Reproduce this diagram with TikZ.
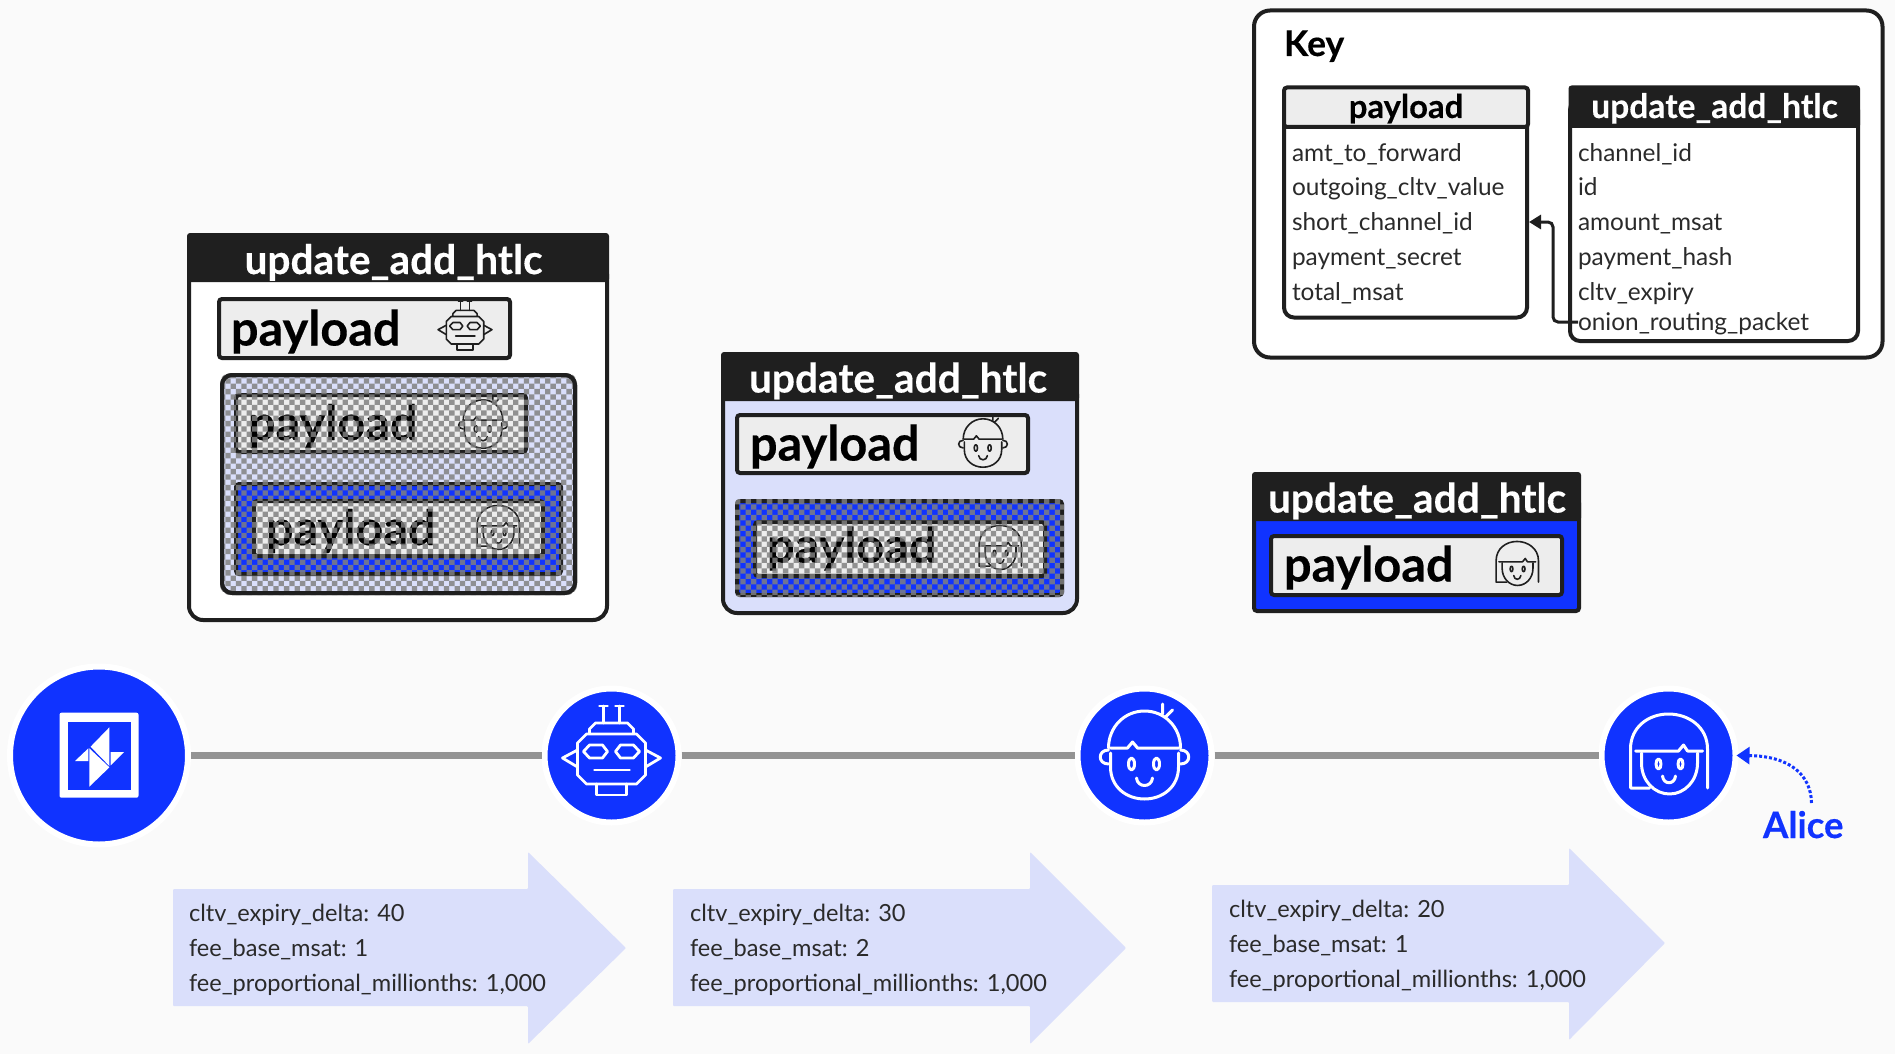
\documentclass[tikz,border=0pt]{standalone}
\usepackage{fontspec}
\setmainfont{Lato}[BoldFeatures={FakeBold=0.35}]
\usetikzlibrary{arrows.meta}
\definecolor{bg}{HTML}{FAFAFA}
\definecolor{ink}{HTML}{1F1F1F}
\definecolor{lnblue}{HTML}{1033FF}
\definecolor{pale}{HTML}{DADFFB}
\definecolor{paygray}{HTML}{EDEDED}
\definecolor{hop}{HTML}{939393}
\definecolor{textdark}{HTML}{2A2A2A}
\newcommand{\fsz}[1]{\fontsize{#1}{#1}\selectfont}
\tikzset{
  lab/.style={inner sep=0pt,outer sep=0pt,anchor=base west},
  hdr/.style={inner sep=0pt,outer sep=0pt,anchor=base,text=white,font=\fsz{40.6}\bfseries},
  paylab/.style={lab,text=black,font=\fsz{48.6}\bfseries},
  row/.style={lab,text=textdark,font=\fsz{24.4}},
  feelab/.style={lab,text=textdark,font=\fsz{23.6}},
  outerbox/.style={draw=ink,line width=4pt,rounded corners=14pt},
  headbar/.style={fill=ink,rounded corners=3pt},
  paybox/.style={draw=ink,line width=4pt,fill=paygray,rounded corners=3pt},
  hopnode/.style={circle,draw=white,fill=lnblue,line width=6pt,inner sep=0pt,minimum size=134pt},
  hopline/.style={draw=hop,line width=7pt},
  feearrow/.style={fill=pale,draw=none,rounded corners=1pt},
}
% icons: x, y, scale, colour, line width
\newcommand{\iconrobot}[5]{\begin{scope}[shift={(#1,#2)},scale=#3,draw=#4,line width=#5,line join=round,line cap=round]
  \draw (-25,-21)--(25,-21)--(34,-12)--(34,20)--(25,29)--(-25,29)--(-34,20)--(-34,-12)--cycle;
  \draw (-22,-22)--(-22,-26)--(-16,-32)--(16,-32)--(22,-26)--(22,-22);
  \draw (-8,-32)--(-8,-49) (-12,-49)--(-4,-49) (8,-32)--(8,-49) (4,-49)--(12,-49);
  \draw (-28,-3.5)--(-22,-10)--(-9,-10)--(-4,-3.5)--(-9,3)--(-22,3)--cycle;
  \draw (28,-3.5)--(22,-10)--(9,-10)--(4,-3.5)--(9,3)--(22,3)--cycle;
  \draw (-17,15)--(18,15);
  \draw (-34,-5)--(-49,3)--(-34,12) (34,-5)--(49,3)--(34,12);
  \draw (-15,29)--(-15,40)--(15,40)--(15,29);
\end{scope}}
\newcommand{\iconboy}[5]{\begin{scope}[shift={(#1,#2)},scale=#3,draw=#4,line width=#5,line join=round,line cap=round]
  \draw (-34,-2) -- (-34,12) .. controls (-34,32) and (-18,44) .. (0,44) .. controls (18,44) and (34,32) .. (34,12) -- (34,-2);
  \draw (-36,-7) .. controls (-36,-28) and (-20,-44) .. (0,-44) .. controls (20,-44) and (36,-28) .. (36,-7);
  \draw (-34,-7) -- (-17,-7) -- (-12,-13) -- (-7,-7) -- (34,-7);
  \draw (18,-51) -- (18,-41) (28,-45) -- (21,-38);
  \draw (-13,9) ellipse [x radius=3,y radius=6];
  \draw (12,9) ellipse [x radius=3,y radius=6];
  \draw (-8,23) .. controls (-7,33) and (7,33) .. (8,23);
  \draw (-36,-5) .. controls (-47,-5) and (-47,9) .. (-36,9);
  \draw (36,-5) .. controls (47,-5) and (47,9) .. (36,9);
\end{scope}}
\newcommand{\icongirl}[5]{\begin{scope}[shift={(#1,#2)},scale=#3,draw=#4,line width=#5,line join=round,line cap=round]
  \draw (-19,33) -- (-38,33) -- (-38,-6) .. controls (-38,-28) and (-20,-41) .. (0,-41) .. controls (20,-41) and (39,-28) .. (39,-6) -- (39,33);
  \draw (-33,-4) -- (10,-4) -- (15,-10) -- (19,-4) -- (34,-4);
  \draw (-27,-2) -- (-27,8) .. controls (-27,26) and (-14,39) .. (1,39) .. controls (16,39) and (29,26) .. (29,8) -- (29,-2);
  \draw (-10,9) ellipse [x radius=2.5,y radius=5];
  \draw (12,9) ellipse [x radius=2.5,y radius=5];
  \draw (-6,21) .. controls (-5,30) and (6,30) .. (7,21);
\end{scope}}
% checker overlay: x1,y1,x2,y2,radius,nx,ny
\newcommand{\checker}[7]{\begin{scope}
  \clip[rounded corners=#5] (#1,#2) rectangle (#3,#4);
  \fill[black!50,opacity=.84] \foreach \i in {0,2,...,#6}{\foreach \j in {0,2,...,#7}{(#1+\i*5.33,#2+\j*5.33) rectangle ++(5.33,5.33)}};
  \fill[black!50,opacity=.84] \foreach \i in {1,3,...,#6}{\foreach \j in {1,3,...,#7}{(#1+\i*5.33,#2+\j*5.33) rectangle ++(5.33,5.33)}};
\end{scope}}
\begin{document}
\begin{tikzpicture}[x=1pt,y=-1pt]
\useasboundingbox (0,0) rectangle (1895,1054);
\fill[bg] (0,0) rectangle (1895,1054);

% ---------- fee arrows
\fill[feearrow] (173,889)--(528,889)--(528,852)--(626,948)--(528,1044)--(528,1006)--(173,1006)--cycle;
\fill[feearrow] (673,889)--(1030,889)--(1030,852)--(1126,948)--(1030,1044)--(1030,1006)--(673,1006)--cycle;
\fill[feearrow] (1212,885)--(1569,885)--(1569,848)--(1665,943)--(1569,1040)--(1569,1002)--(1212,1002)--cycle;
\node[feelab] (f1a) at (189,921) {cltv\_expiry\_delta: 40};
\node[feelab] (f1b) at (189,956) {fee\_base\_msat: 1};
\node[feelab] (f1c) at (189,991) {fee\_proportional\_millionths: 1,000};
\node[feelab] (f2a) at (690,921) {cltv\_expiry\_delta: 30};
\node[feelab] (f2b) at (690,956) {fee\_base\_msat: 2};
\node[feelab] (f2c) at (690,991) {fee\_proportional\_millionths: 1,000};
\node[feelab] (f3a) at (1229,917) {cltv\_expiry\_delta: 20};
\node[feelab] (f3b) at (1229,952) {fee\_base\_msat: 1};
\node[feelab] (f3c) at (1229,987) {fee\_proportional\_millionths: 1,000};

% ---------- route
\node[hopnode,minimum size=178pt] (gate) at (99,755.5) {};
\node[hopnode] (robot) at (611.5,755.5) {};
\node[hopnode] (boy) at (1144.5,755.5) {};
\node[hopnode] (girl) at (1668.5,755.5) {};
\draw[hopline] (gate) -- (robot);
\draw[hopline] (robot) -- (boy);
\draw[hopline] (boy) -- (girl);
% lightning icon
\fill[white,rounded corners=2pt] (59.5,712.7) rectangle (138.5,797.7);
\fill[lnblue] (68,721.7) rectangle (131,790);
\fill[white] (109.4,727.3)--(90.6,746.7)--(109.4,766)--cycle;
\fill[white] (89.3,748.3)--(89.3,786.7)--(109.4,767.3)--cycle;
\fill[white] (75,761)--(88.4,748.3)--(88.4,761)--cycle;
\fill[white] (110.7,752)--(124.1,752)--(110.7,765.3)--cycle;
\iconrobot{611.5}{755}{1}{white}{2.8pt}
\iconboy{1144.5}{755}{1}{white}{3pt}
\icongirl{1668.5}{755}{1}{white}{3pt}

% ---------- Alice
\node[lab,text=lnblue,font=\fsz{36.5}\bfseries] (alice) at (1763,838) {Alice};
\draw[lnblue,line width=3pt,dotted,shorten >=-2pt,-{Triangle[length=13pt,width=17pt]}] (1811.5,803) .. controls (1811,775) and (1790,756) .. (girl.east);

% ---------- update_add_htlc 1
\draw[outerbox,fill=white] (189,260) rectangle (607,620);
\fill[headbar] (187,233) rectangle (609,282);
\node[hdr] (h1) at (393.5,274) {update\_add\_htlc};
\draw[paybox] (219,299) rectangle (510,358);
\node[paylab] (p1) at (231,345.5) {payload};
\iconrobot{465}{328}{.55}{ink}{1.6pt}
\draw[draw=ink,line width=4pt,fill=pale,rounded corners=10pt] (222,375) rectangle (575,593);
\draw[paybox] (236,395) rectangle (526,452);
\node[paylab] (p2) at (248,440) {payload};
\iconboy{483}{424}{.55}{ink}{1.6pt}
\draw[draw=ink,line width=4pt,fill=lnblue,rounded corners=3pt] (236,484) rectangle (561,574);
\draw[paybox] (254,501) rectangle (543,556);
\node[paylab] (p3) at (266,545) {payload};
\icongirl{498}{528}{.55}{ink}{1.6pt}
\checker{220}{373}{577}{595}{10pt}{68}{42}
\draw[draw=ink,line width=4pt,rounded corners=10pt] (222,375) rectangle (575,593);

% ---------- update_add_htlc 2
\draw[outerbox,fill=pale] (723,380) rectangle (1077,613);
\fill[headbar] (721,352) rectangle (1079,401);
\node[hdr] (h2) at (898,392.5) {update\_add\_htlc};
\draw[paybox] (737,415) rectangle (1028,473);
\node[paylab] (p4) at (750,460.5) {payload};
\iconboy{983}{443}{.55}{ink}{1.6pt}
\draw[draw=ink,line width=4pt,fill=lnblue,rounded corners=3pt] (737,501) rectangle (1062,595);
\draw[paybox] (755,522) rectangle (1045,576);
\node[paylab] (p5) at (767,562.5) {payload};
\icongirl{1000}{548}{.55}{ink}{1.6pt}
\checker{735}{499}{1064}{597}{4pt}{62}{19}

% ---------- update_add_htlc 3
\draw[draw=ink,line width=4pt,fill=lnblue,rounded corners=3pt] (1254,500) rectangle (1579,611);
\fill[headbar] (1252,472) rectangle (1581,521);
\node[hdr] (h3) at (1417,512.5) {update\_add\_htlc};
\draw[paybox] (1271,536) rectangle (1562,595);
\node[paylab] (p6) at (1284,581.5) {payload};
\icongirl{1517}{564}{.55}{ink}{1.6pt}

% ---------- key
\draw[outerbox,fill=white,rounded corners=16pt] (1254,10.5) rectangle (1882.5,357.5);
\node[lab,text=black,font=\fsz{35.5}\bfseries] (keytitle) at (1284,56) {Key};
\draw[outerbox,fill=white,rounded corners=10pt] (1284,100) rectangle (1527,317.5);
\draw[draw=ink,line width=4pt,fill=paygray,rounded corners=3pt] (1284,87.5) rectangle (1528,127);
\node[hdr,text=black,font=\fsz{32.8}\bfseries] (keypay) at (1406,118) {payload};
\draw[outerbox,fill=white,rounded corners=10pt] (1570,100) rectangle (1858,341);
\fill[headbar] (1568.5,85.5) rectangle (1860,128);
\node[hdr,font=\fsz{33.6}\bfseries] (keyupd) at (1714.5,118) {update\_add\_htlc};
\node[row] (r1) at (1292,161) {amt\_to\_forward};
\node[row] (r2) at (1292,195.5) {outgoing\_cltv\_value};
\node[row] (r3) at (1292,230) {short\_channel\_id};
\node[row] (r4) at (1292,265) {payment\_secret};
\node[row] (r5) at (1292,300) {total\_msat};
\node[row] (u1) at (1578,161) {channel\_id};
\node[row] (u2) at (1578,195.5) {id};
\node[row] (u3) at (1578,230) {amount\_msat};
\node[row] (u4) at (1578,265) {payment\_hash};
\node[row] (u5) at (1578,300) {cltv\_expiry};
\node[row] (u6) at (1578,330.5) {onion\_routing\_packet};
\coordinate (karrow) at (1529,222);
\draw[ink,line width=3pt,rounded corners=5pt,-{Triangle[length=12pt,width=14pt]}] (u6.west |- 0,322) -- (1553,322) -- (1553,222) -- (karrow);
\end{tikzpicture}
\end{document}
